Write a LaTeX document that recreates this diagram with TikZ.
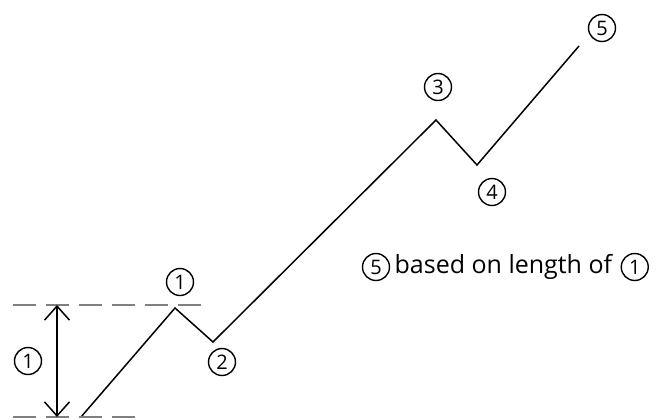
\documentclass[tikz,border=0pt]{standalone}
\usepackage{fontspec}
\setmainfont{Open Sans}
\usepackage{tikz}
\usetikzlibrary{arrows.meta,positioning}

\begin{document}
\begin{tikzpicture}[x=0.5pt,y=-0.5pt,
    wave/.style={line width=0.75pt,line join=miter},
    guide/.style={draw=black!50,line width=1.2pt,dash pattern=on 11.5pt off 5pt},
    num/.style={draw,circle,line width=0.7pt,minimum size=13.5pt,inner sep=0pt,font=\fontsize{10}{10}\selectfont}]
    \useasboundingbox (0,0) rectangle (660,419);
    % wave points
    \coordinate (p0) at (81,417);
    \coordinate (p1) at (175,308);
    \coordinate (p2) at (213,342);
    \coordinate (p3) at (436,120);
    \coordinate (p4) at (477,165);
    \coordinate (p5) at (579,46);
    \draw[wave] (p0)--(p1)--(p2)--(p3)--(p4)--(p5);

    % guide lines and height of wave 1
    \coordinate (topl) at (13,305);
    \coordinate (topr) at (203,305);
    \coordinate (botl) at (13,417);
    \coordinate (botr) at (143,417);
    \draw[guide] (topl)--(topr);
    \draw[guide] (botl)--(botr);
    \coordinate (hgtt) at (57,305);
    \coordinate (hgtb) at (57,417);
    \draw[{Straight Barb[length=7pt,width=12.5pt]}-{Straight Barb[length=7pt,width=12.5pt]},line width=0.75pt] (hgtt)--(hgtb);
    \node[num] (hgt) at (28,361) {1};

    % wave labels
    \node[num] (lbl1) at (180,282) {1};
    \node[num] (lbl2) at (222,362) {2};
    \node[num] (lbl3) at (438,87) {3};
    \node[num] (lbl4) at (492,192) {4};
    \node[num] (lbl5) at (602,28) {5};

    % note
    \node[num] (note5) at (376,267) {5};
    \node[right=1pt of note5,inner sep=1pt,font=\fontsize{12.5}{13}\selectfont] (notetxt) {based on length of};
    \node[num,right=3pt of notetxt] (note1) {1};
  \end{tikzpicture}
\end{document}
